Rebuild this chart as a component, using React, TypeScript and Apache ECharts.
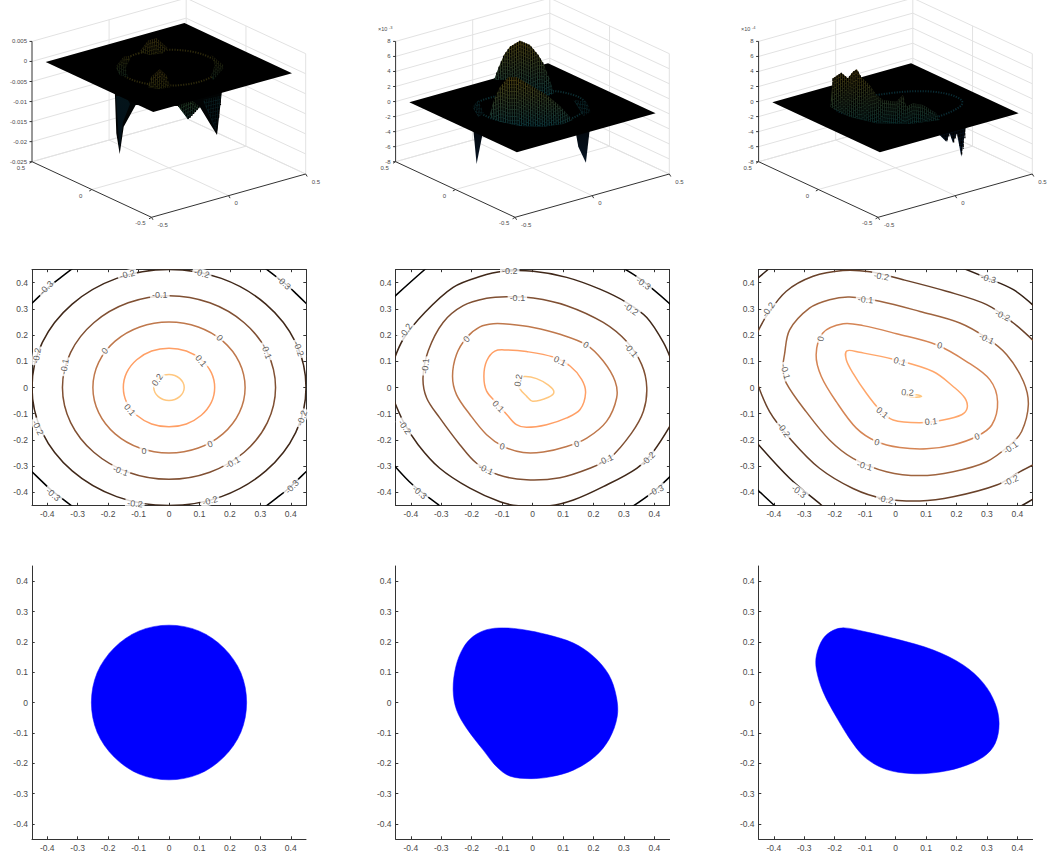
import React, { useEffect, useRef } from "react";
import * as echarts from "echarts";

type Pt = number[];
const FONT = '"Liberation Sans", Arial, sans-serif';

// ---------- tick lists ----------
const planeTicks = [-0.4, -0.3, -0.2, -0.1, 0, 0.1, 0.2, 0.3, 0.4];
const boxTicks = [-0.5, 0, 0.5];
const zTicksA = [0.005, 0, -0.005, -0.01, -0.015, -0.02, -0.025];
const zTicksB = [8, 6, 4, 2, 0, -2, -4, -6, -8];

// ---------- contour colours (copper map) ----------
const copperSix: Record<string, string> = { "-0.3": "#000000", "-0.2": "#402819", "-0.1": "#805033", "0": "#BF784C", "0.1": "#FF9F65", "0.2": "#FFC77F" };
const copperSeven: Record<string, string> = { "-0.4": "#000000", "-0.3": "#352115", "-0.2": "#6A422A", "-0.1": "#9F643F", "0": "#D58555", "0.1": "#FFA66A", "0.2": "#FFC77F" };

// ---------- contour panel 1 ----------
const p1L02: Pt[] = [[-0.035,0.035],[-0.019,0.046],[0,0.05],[0.019,0.046],[0.035,0.035],[0.046,0.019],[0.05,0],[0.046,-0.019],[0.035,-0.035],[0.019,-0.046],[0,-0.05],[-0.019,-0.046],[-0.035,-0.035],[-0.046,-0.019],[-0.05,0],[-0.046,0.019]];
const p1L01: Pt[] = [[0.106,0.106],[0.139,0.057],[0.15,0],[0.139,-0.057],[0.106,-0.106],[0.057,-0.139],[0,-0.15],[-0.057,-0.139],[-0.106,-0.106],[-0.139,-0.057],[-0.15,0],[-0.139,0.057],[-0.106,0.106],[-0.057,0.139],[0,0.15],[0.057,0.139]];
const p1L0: Pt[] = [[0.177,0.177],[0.231,0.096],[0.25,0],[0.231,-0.096],[0.177,-0.177],[0.096,-0.231],[0,-0.25],[-0.096,-0.231],[-0.177,-0.177],[-0.231,-0.096],[-0.25,0],[-0.231,0.096],[-0.177,0.177],[-0.096,0.231],[0,0.25],[0.096,0.231]];
const p1Lm1: Pt[] = [[0.247,0.247],[0.323,0.134],[0.35,0],[0.323,-0.134],[0.247,-0.247],[0.134,-0.323],[0,-0.35],[-0.134,-0.323],[-0.247,-0.247],[-0.323,-0.134],[-0.35,0],[-0.323,0.134],[-0.247,0.247],[-0.134,0.323],[0,0.35],[0.134,0.323]];
const p1Lm2: Pt[] = [[0.318,0.318],[0.416,0.172],[0.45,0],[0.416,-0.172],[0.318,-0.318],[0.172,-0.416],[0,-0.45],[-0.172,-0.416],[-0.318,-0.318],[-0.416,-0.172],[-0.45,0],[-0.416,0.172],[-0.318,0.318],[-0.172,0.416],[0,0.45],[0.172,0.416]];
const p1Lm3a: Pt[] = [[-0.46,0.31],[-0.42,0.355],[-0.389,0.389],[-0.355,0.42],[-0.31,0.46]];
const p1Lm3b: Pt[] = [[0.46,0.31],[0.42,0.355],[0.389,0.389],[0.355,0.42],[0.31,0.46]];
const p1Lm3c: Pt[] = [[-0.46,-0.31],[-0.42,-0.355],[-0.389,-0.389],[-0.355,-0.42],[-0.31,-0.46]];
const p1Lm3d: Pt[] = [[0.46,-0.31],[0.42,-0.355],[0.389,-0.389],[0.355,-0.42],[0.31,-0.46]];

// ---------- contour panel 2 ----------
const p2L02: Pt[] = [[-0.047,0.027],[-0.028,0.042],[0.013,0.034],[0.052,0.009],[0.07,-0.017],[0.052,-0.037],[0,-0.052],[-0.02,-0.033],[-0.042,-0.004]];
const p2L01: Pt[] = [[-0.124,0.139],[-0.085,0.143],[-0.02,0.137],[0.068,0.116],[0.123,0.082],[0.161,0.031],[0.174,-0.02],[0.156,-0.084],[0.112,-0.116],[0.046,-0.142],[-0.02,-0.152],[-0.053,-0.142],[-0.085,-0.103],[-0.118,-0.059],[-0.151,-0.014],[-0.16,0.043],[-0.151,0.101]];
const p2L0: Pt[] = [[-0.129,0.243],[-0.075,0.241],[0.002,0.229],[0.09,0.203],[0.178,0.162],[0.232,0.101],[0.271,0.024],[0.276,-0.04],[0.243,-0.129],[0.178,-0.193],[0.112,-0.225],[0.035,-0.246],[-0.031,-0.248],[-0.096,-0.225],[-0.151,-0.18],[-0.206,-0.103],[-0.25,-0.027],[-0.263,0.043],[-0.25,0.126],[-0.217,0.19],[-0.173,0.231]];
const p2Lm1: Pt[] = [[-0.36,0.037],[-0.343,0.139],[-0.294,0.248],[-0.228,0.312],[-0.151,0.34],[-0.085,0.346],[0.002,0.341],[0.112,0.312],[0.232,0.248],[0.309,0.175],[0.358,0.088],[0.375,0],[0.364,-0.091],[0.325,-0.174],[0.254,-0.269],[0.188,-0.308],[0.09,-0.344],[-0.02,-0.352],[-0.113,-0.333],[-0.184,-0.289],[-0.239,-0.218],[-0.305,-0.116],[-0.348,-0.04]];
const p2Lm2a: Pt[] = [[-0.46,0.09],[-0.425,0.184],[-0.354,0.286],[-0.261,0.382],[-0.173,0.423],[-0.096,0.443],[0.002,0.443],[0.112,0.42],[0.221,0.375],[0.309,0.324],[0.375,0.267],[0.43,0.171],[0.46,0.09]];
const p2Lm2b: Pt[] = [[-0.46,-0.036],[-0.425,-0.129],[-0.376,-0.218],[-0.305,-0.308],[-0.206,-0.384],[-0.107,-0.436],[-0.047,-0.451],[0.057,-0.451],[0.134,-0.429],[0.232,-0.378],[0.342,-0.308],[0.397,-0.244],[0.46,-0.13]];
const p2Lm3a: Pt[] = [[-0.46,0.34],[-0.354,0.45],[-0.34,0.46]];
const p2Lm3b: Pt[] = [[0.29,0.46],[0.353,0.414],[0.46,0.31]];
const p2Lm3c: Pt[] = [[-0.46,-0.29],[-0.393,-0.372],[-0.305,-0.451],[-0.295,-0.46]];
const p2Lm3d: Pt[] = [[0.32,-0.46],[0.397,-0.397],[0.46,-0.33]];

// ---------- contour panel 3 ----------
const p3L02: Pt[] = [[0.03,-0.028],[0.069,-0.028],[0.085,-0.034],[0.058,-0.037]];
const p3L01: Pt[] = [[-0.16,0.14],[-0.118,0.134],[-0.008,0.108],[0.123,0.061],[0.189,0.004],[0.228,-0.041],[0.235,-0.079],[0.217,-0.104],[0.156,-0.124],[0.08,-0.134],[-0.008,-0.124],[-0.052,-0.085],[-0.096,-0.022],[-0.14,0.055],[-0.162,0.106]];
const p3L0: Pt[] = [[-0.172,0.243],[-0.107,0.236],[0.003,0.205],[0.134,0.163],[0.233,0.099],[0.31,0.029],[0.335,-0.054],[0.316,-0.143],[0.266,-0.187],[0.189,-0.219],[0.102,-0.234],[0.014,-0.229],[-0.063,-0.206],[-0.129,-0.155],[-0.195,-0.054],[-0.244,0.042],[-0.261,0.125],[-0.239,0.208]];
const p3Lm1: Pt[] = [[-0.365,0.125],[-0.348,0.22],[-0.283,0.303],[-0.217,0.335],[-0.151,0.345],[-0.052,0.329],[0.08,0.29],[0.211,0.246],[0.299,0.189],[0.365,0.125],[0.42,0.023],[0.436,-0.066],[0.414,-0.168],[0.376,-0.219],[0.299,-0.283],[0.189,-0.321],[0.08,-0.336],[-0.03,-0.321],[-0.14,-0.27],[-0.217,-0.2],[-0.294,-0.092],[-0.359,0.017],[-0.37,0.074]];
const p3Lm2a: Pt[] = [[-0.46,0.195],[-0.425,0.271],[-0.359,0.367],[-0.271,0.424],[-0.173,0.446],[-0.085,0.441],[0.025,0.411],[0.167,0.367],[0.299,0.316],[0.387,0.246],[0.46,0.17]];
const p3Lm2b: Pt[] = [[-0.46,0.035],[-0.414,-0.092],[-0.343,-0.2],[-0.25,-0.308],[-0.14,-0.385],[-0.041,-0.423],[0.08,-0.433],[0.189,-0.417],[0.332,-0.372],[0.409,-0.321],[0.46,-0.29]];
const p3Lm3a: Pt[] = [[-0.46,0.41],[-0.419,0.45],[-0.41,0.46]];
const p3Lm3b: Pt[] = [[0.21,0.46],[0.299,0.418],[0.387,0.373],[0.46,0.305]];
const p3Lm3c: Pt[] = [[-0.46,-0.205],[-0.348,-0.346],[-0.244,-0.448],[-0.23,-0.46]];
const p3Lm3d: Pt[] = [[0.4,-0.46],[0.414,-0.451],[0.46,-0.42]];
const p3Lm4: Pt[] = [[-0.46,-0.383],[-0.397,-0.451],[-0.387,-0.46]];

// level, points, closed
const contoursP1: [string, Pt[], boolean][] = [["-0.3",p1Lm3a,false],["-0.3",p1Lm3b,false],["-0.3",p1Lm3c,false],["-0.3",p1Lm3d,false],["-0.2",p1Lm2,true],["-0.1",p1Lm1,true],["0",p1L0,true],["0.1",p1L01,true],["0.2",p1L02,true]];
const contoursP2: [string, Pt[], boolean][] = [["-0.3",p2Lm3a,false],["-0.3",p2Lm3b,false],["-0.3",p2Lm3c,false],["-0.3",p2Lm3d,false],["-0.2",p2Lm2a,false],["-0.2",p2Lm2b,false],["-0.1",p2Lm1,true],["0",p2L0,true],["0.1",p2L01,true],["0.2",p2L02,true]];
const contoursP3: [string, Pt[], boolean][] = [["-0.4",p3Lm4,false],["-0.3",p3Lm3a,false],["-0.3",p3Lm3b,false],["-0.3",p3Lm3c,false],["-0.3",p3Lm3d,false],["-0.2",p3Lm2a,false],["-0.2",p3Lm2b,false],["-0.1",p3Lm1,true],["0",p3L0,true],["0.1",p3L01,true],["0.2",p3L02,true]];

// ---------- contour labels: text, x, y, angle ----------
const labelsP1: [string, number, number, number][] = [
  ["-0.3",-0.403,0.38,45],["-0.2",-0.137,0.431,15],["-0.2",0.108,0.435,-15],["-0.3",0.377,0.399,-42],["-0.2",0.426,0.148,-70],["-0.1",-0.03,0.351,0],["-0.1",0.32,0.138,-70],["0",0.166,0.189,-48],["0",-0.211,0.14,50],["0.1",0.105,0.102,-50],["-0.1",-0.343,0.08,80],["-0.2",-0.434,0.121,80],["0.2",-0.038,0.029,55],["0.1",-0.129,-0.085,-50],["-0.2",-0.431,-0.153,-65],["-0.2",0.437,-0.117,70],["0",-0.082,-0.241,0],["0",0.135,-0.216,20],["-0.1",-0.159,-0.318,-20],["-0.1",0.209,-0.286,30],["-0.3",-0.381,-0.408,-40],["-0.2",-0.112,-0.443,-5],["-0.2",0.135,-0.432,15],["-0.3",0.404,-0.379,45],
];
const labelsP2: [string, number, number, number][] = [
  ["-0.2",-0.075,0.443,0],["-0.3",0.364,0.397,-35],["-0.1",-0.05,0.341,0],["-0.2",0.323,0.299,-35],["-0.2",-0.417,0.216,55],["0",-0.217,0.184,50],["0",0.175,0.162,-30],["-0.1",0.323,0.142,-50],["0.1",0.09,0.101,-25],["-0.1",-0.352,0.082,85],["0.2",-0.047,0.027,80],["0.1",-0.113,-0.072,-45],["-0.2",-0.42,-0.151,-55],["0",-0.1,-0.225,-15],["0",0.145,-0.215,15],["-0.2",0.38,-0.272,45],["-0.1",0.24,-0.276,25],["-0.1",-0.154,-0.312,-25],["-0.3",-0.371,-0.4,-40],["-0.3",0.406,-0.393,25],
];
const labelsP3: [string, number, number, number][] = [
  ["-0.2",-0.047,0.424,-10],["-0.3",0.305,0.415,-15],["-0.1",-0.099,0.335,-5],["-0.2",0.351,0.274,-25],["-0.2",-0.418,0.297,55],["-0.1",0.299,0.186,-25],["0",-0.246,0.186,75],["0",0.145,0.16,-15],["0.1",0.014,0.099,-15],["-0.1",-0.362,0.061,-75],["0.2",0.039,-0.019,-5],["0.1",-0.044,-0.096,-40],["0.1",0.116,-0.13,5],["-0.2",-0.368,-0.162,-55],["0",-0.061,-0.209,-15],["0",0.268,-0.187,20],["-0.1",0.378,-0.229,35],["-0.1",-0.102,-0.299,-15],["-0.2",0.379,-0.355,25],["-0.3",-0.318,-0.397,-35],["-0.2",-0.033,-0.427,-10],
];

// ---------- blue regions ----------
const regionA: Pt[] = [[0,0.255],[0.098,0.236],[0.18,0.18],[0.236,0.098],[0.255,0],[0.236,-0.098],[0.18,-0.18],[0.098,-0.236],[0,-0.255],[-0.098,-0.236],[-0.18,-0.18],[-0.236,-0.098],[-0.255,0],[-0.236,0.098],[-0.18,0.18],[-0.098,0.236]];
const regionB: Pt[] = [[-0.096,0.246],[-0.03,0.24],[0.047,0.224],[0.134,0.196],[0.2,0.152],[0.25,0.092],[0.275,0.02],[0.278,-0.046],[0.252,-0.12],[0.205,-0.178],[0.134,-0.223],[0.058,-0.245],[-0.008,-0.251],[-0.074,-0.243],[-0.118,-0.212],[-0.162,-0.157],[-0.217,-0.085],[-0.25,-0.024],[-0.261,0.042],[-0.252,0.119],[-0.228,0.18],[-0.195,0.218],[-0.151,0.24]];
const regionC: Pt[] = [[-0.168,0.246],[-0.107,0.235],[0.003,0.209],[0.124,0.173],[0.223,0.123],[0.289,0.063],[0.327,-0.003],[0.34,-0.069],[0.327,-0.135],[0.289,-0.179],[0.212,-0.214],[0.124,-0.232],[0.047,-0.234],[-0.03,-0.221],[-0.096,-0.185],[-0.14,-0.135],[-0.195,-0.047],[-0.238,0.035],[-0.26,0.107],[-0.26,0.156],[-0.238,0.211],[-0.205,0.238]];

// ---------- silhouettes of the surfaces, in the view plane of each 3D panel ----------
const s1Under: Pt[] = [[82.7,88],[84.3,133.3],[87.7,154],[91.7,126.7],[103.7,105],[146,106],[156,119.3],[167.7,106.7],[177.7,123.3],[185,135],[190.3,88]];
const s1ShadeMid: Pt[] = [[146,106],[156,119.3],[167.7,106.7],[159,100]];
const s1ShadeLeft: Pt[] = [[84,96],[87.5,150],[91,122],[98,104],[94,96]];
const s1ShadeRight: Pt[] = [[171,100],[184,131],[189,96]];
const s1Back: Pt[] = [[107.7,51.7],[116,40.7],[124.3,38.3],[136,48.3],[131,53.3],[117.7,55]];
const s1Front: Pt[] = [[116,87.3],[119.3,76.7],[127.7,69.3],[134.3,75],[138.3,87.3],[127,89]];
const s1Left: Pt[] = [[83.7,66.7],[91.7,56.7],[99.3,56],[93.7,68.3],[96,77.3],[87.7,75]];
const s1Right: Pt[] = [[179.3,55],[191,65],[191.7,68.3],[181,80],[179.3,75],[182.7,65]];

const s2SpikeL: Pt[] = [[77,122],[81,164],[89.3,122]];
const s2SpikeR: Pt[] = [[178.3,122],[182.7,146.7],[190.3,162.7],[195,122]];
const s2Back: Pt[] = [[98.3,80],[102.7,68.3],[108.3,55],[114.3,46.7],[124.3,40.7],[134.3,45],[142.7,55],[147.7,63.3],[153.7,78.3],[158.3,93.3],[151,96.7],[121,80]];
const s2Front: Pt[] = [[93.7,116.7],[98.3,100],[104.3,87.3],[112.7,77.3],[121,77.3],[134.3,85],[151,95],[164.3,106],[177,120],[167.7,124],[147.7,126.7],[124.3,126],[104.3,121.7]];
const s2SideL: Pt[] = [[77,107],[82.5,100.7],[88,113],[83,117.3]];
const s2SideR: Pt[] = [[178,100],[191,102],[195,112],[188,116]];

const s3Hump: Pt[] = [[71.7,106.7],[74.3,78.3],[82.7,72.7],[89.3,78.3],[94.3,71.7],[98.3,69.3],[102.7,77.3],[111,85],[117.7,95],[124.3,100],[137.7,101.7],[144.3,95],[147.7,106.7],[154.3,103.3],[164.3,105],[177.7,113.3],[181,120],[151,124],[117.7,123.3],[91,116.7]];
const s3Spike: Pt[] = [[181,125],[181,135],[187.7,141.7],[191,133.3],[194.3,142.7],[198.3,133.3],[202.7,156.7],[207,128.3],[207,118]];

// ---------- layout ----------
const colLeft = [32, 395.6, 758.6];
const plotWidth = 274;
const rows = { surface: { top: 0, height: 228 }, contour: { top: 269.5, height: 236 }, region: { top: 566, height: 273 } };
const TEXT = "#4a4a4a";
const AXIS = "#333333";
const WALL = "#e2e2e2";

// projection of the parallelepiped used by the 3D panels
const project = (x: number, y: number, z: number, zMin: number, zMax: number): Pt => [
  119.5 + (x + 0.5) * 154.2 - (y + 0.5) * 119.5,
  217.3 - (x + 0.5) * 43.3 - (y + 0.5) * 55.6 - ((z - zMin) / (zMax - zMin)) * 120.3,
];

function scan(pts: Pt[], u: number): [number, number] | null {
  let lo = Infinity, hi = -Infinity;
  for (let i = 0; i < pts.length; i++) {
    const a = pts[i], b = pts[(i + 1) % pts.length];
    if ((a[0] <= u && b[0] > u) || (b[0] <= u && a[0] > u)) {
      const v = a[1] + ((u - a[0]) / (b[0] - a[0])) * (b[1] - a[1]);
      lo = Math.min(lo, v); hi = Math.max(hi, v);
    }
  }
  return lo < hi ? [lo, hi] : null;
}

function polySeries(idx: number, pts: Pt[], top: string, bottom: string, stripes = 0, z = 2) {
  return {
    type: "custom", coordinateSystem: "cartesian2d", xAxisIndex: idx, yAxisIndex: idx, silent: true, z,
    data: pts, clip: false,
    renderItem: (params: any, api: any) => {
      if (params.dataIndex !== 0) return null;
      const children: any[] = [{
        type: "polygon", shape: { points: pts.map((p) => api.coord(p)) },
        style: { fill: new echarts.graphic.LinearGradient(0, 0, 0, 1, [{ offset: 0, color: top }, { offset: 1, color: bottom }]) },
      }];
      if (stripes > 0) {
        const us = pts.map((p) => p[0]);
        for (let u = Math.min(...us) + 0.5; u < Math.max(...us); u += stripes) {
          const r = scan(pts, u);
          if (!r) continue;
          const a = api.coord([u, r[0]]), b = api.coord([u, r[1]]);
          children.push({ type: "line", shape: { x1: a[0], y1: a[1], x2: b[0] + 0.8, y2: b[1] }, style: { stroke: "#000", lineWidth: 1.25, lineDash: [3, 0.6] } });
        }
      }
      return { type: "group", children };
    },
  };
}

function surfacePanel(idx: number, zTicks: number[], zMin: number, zMax: number, exponent: string | null, ring: Pt[], ringColor: string) {
  const P = (x: number, y: number, z: number) => project(x, y, z, zMin, zMax);
  const box = {
    type: "custom", coordinateSystem: "cartesian2d", xAxisIndex: idx, yAxisIndex: idx, silent: true, z: 1, clip: false,
    data: [[0, 0]],
    renderItem: (_p: any, api: any) => {
      const kids: any[] = [];
      const line = (a: Pt, b: Pt, stroke: string) => {
        const s = api.coord(a), e = api.coord(b);
        kids.push({ type: "line", shape: { x1: s[0], y1: s[1], x2: e[0], y2: e[1] }, style: { stroke, lineWidth: 1 } });
      };
      const text = (t: string, at: Pt, size: number, align = "center") => {
        const c = api.coord(at);
        kids.push({ type: "text", style: { text: t, x: c[0], y: c[1], fill: TEXT, font: `${size}px ${FONT}`, align, verticalAlign: "middle" } });
      };
      zTicks.forEach((z) => { line(P(-0.5, 0.5, z), P(0.5, 0.5, z), WALL); line(P(0.5, 0.5, z), P(0.5, -0.5, z), WALL); });
      line(P(0.5, 0.5, zMin), P(0.5, 0.5, zMax), WALL);
      line(P(0, 0.5, zMin), P(0, 0.5, zMax), WALL);
      line(P(0.5, 0, zMin), P(0.5, 0, zMax), WALL);
      line(P(0.5, -0.5, zMin), P(0.5, -0.5, zMax), WALL);
      line(P(0, -0.5, zMin), P(0, 0.5, zMin), WALL);
      line(P(-0.5, 0, zMin), P(0.5, 0, zMin), WALL);
      line(P(-0.5, 0.5, zMin), P(0.5, 0.5, zMin), WALL);
      line(P(0.5, 0.5, zMin), P(0.5, -0.5, zMin), WALL);
      line(P(-0.5, 0.5, zMin), P(-0.5, 0.5, zMax), AXIS);
      line(P(-0.5, -0.5, zMin), P(0.5, -0.5, zMin), AXIS);
      line(P(-0.5, -0.5, zMin), P(-0.5, 0.5, zMin), AXIS);
      zTicks.forEach((z) => {
        const p = P(-0.5, 0.5, z);
        line([p[0] - 2.5, p[1]], p, AXIS);
        text(String(z), [p[0] - 5, p[1]], 6, "right");
      });
      boxTicks.forEach((t) => {
        const a = P(t, -0.5, zMin);
        line(a, [a[0] + 1.5, a[1] + 2.5], AXIS);
        text(String(t), [a[0] + 6, a[1] + 7.5], 6, "left");
        const b = P(-0.5, t, zMin);
        line(b, [b[0] - 2.5, b[1] + 1.5], AXIS);
        text(String(t), [b[0] - 11, b[1] + 6], 6);
      });
      if (exponent) {
        const top = P(-0.5, 0.5, zMax);
        text("×10", [top[0] - 13, top[1] - 12], 5.5);
        text(exponent, [top[0] - 5, top[1] - 14], 4);
      }
      return { type: "group", children: kids };
    },
  };
  const corners: Pt[] = [P(-0.45, 0.45, 0), P(0.45, 0.45, 0), P(0.45, -0.45, 0), P(-0.45, -0.45, 0)];
  const plate = polySeries(idx, corners, "#000000", "#000000", 0, 5);
  const ringPts = ring.map((p) => P(p[0], p[1], 0));
  const ringSeries = {
    type: "custom", coordinateSystem: "cartesian2d", xAxisIndex: idx, yAxisIndex: idx, data: ringPts, silent: true, z: 6, clip: false,
    renderItem: (params: any, api: any) => {
      if (params.dataIndex !== 0) return null;
      return { type: "polygon", shape: { points: ringPts.map((p) => api.coord(p)), smooth: 0.34 }, style: { fill: "none", stroke: ringColor, lineWidth: 2, lineDash: [1.2, 1.4] } };
    },
  };
  return { box, plate, ringSeries };
}

function buildOption() {
  const grid: any[] = [], xAxis: any[] = [], yAxis: any[] = [], series: any[] = [];
  const tick = { show: true, inside: true, length: 2.7, customValues: planeTicks, lineStyle: { color: AXIS, width: 1 } };
  const labelStyle = { show: true, color: TEXT, fontSize: 8.5, fontFamily: FONT, customValues: planeTicks, formatter: (v: number) => String(Number(v.toFixed(1))) };

  colLeft.forEach((left, i) => {
    grid.push({ left, top: rows.surface.top, width: plotWidth, height: rows.surface.height });
    xAxis.push({ type: "value", gridIndex: i, min: 0, max: plotWidth, show: false });
    yAxis.push({ type: "value", gridIndex: i, min: 0, max: rows.surface.height, inverse: true, show: false });
  });

  const panels = [
    surfacePanel(0, zTicksA, -0.025, 0.005, null, regionA, "#2e2a0c"),
    surfacePanel(1, zTicksB, -8, 8, "-3", regionB, "#0c2e32"),
    surfacePanel(2, zTicksB, -8, 8, "-4", regionC, "#0a2c34"),
  ];
  panels.forEach((p) => series.push(p.box, p.plate, p.ringSeries));

  const OL = "#4c3f0e", OLD = "#2e2a0c", TEAL = "#0a343a";
  series.push(
    polySeries(0, s1Under, "#010303", "#010304", 0, 3),
    polySeries(0, s1ShadeMid, "#2c4426", "#0e2c2c", 1.8, 4),
    polySeries(0, s1ShadeLeft, "#04141a", "#03101a", 0, 4),
    polySeries(0, s1ShadeRight, "#0b2426", "#05121a", 1.8, 4),
    polySeries(0, s1Back, "#3e3410", "#28280c", 1.9, 7),
    polySeries(0, s1Front, "#3e3410", "#28280c", 1.9, 7),
    polySeries(0, s1Left, OLD, "#0e2018", 1.9, 7),
    polySeries(0, s1Right, OLD, "#0e2018", 1.9, 7),
    polySeries(1, s2SpikeL, "#020508", "#061424", 0, 3),
    polySeries(1, s2SpikeR, "#020508", "#061424", 0, 3),
    polySeries(1, s2Back, OL, TEAL, 2.3, 7),
    polySeries(1, s2Front, OL, TEAL, 2.3, 8),
    polySeries(1, s2SideL, "#0c2e32", "#081e22", 1.8, 7),
    polySeries(1, s2SideR, "#0c2e32", "#081e22", 1.8, 7),
    polySeries(2, s3Hump, "#453509", "#0a2e2e", 2.1, 7),
    polySeries(2, s3Spike, "#030a12", "#081c34", 1.6, 3),
  );

  const contourSets = [contoursP1, contoursP2, contoursP3];
  const labelSets = [labelsP1, labelsP2, labelsP3];
  const palettes = [copperSix, copperSix, copperSeven];
  const regions = [regionA, regionB, regionC];
  let axisIdx = 3, gridIdx = 3;

  colLeft.forEach((left, i) => {
    const g = gridIdx++;
    grid.push({ left, top: rows.contour.top, width: plotWidth, height: rows.contour.height });
    const base = { type: "value", gridIndex: g, min: -0.45, max: 0.45, splitLine: { show: false }, axisLine: { show: true, onZero: false, lineStyle: { color: AXIS, width: 1 } }, axisTick: tick };
    const main = axisIdx;
    xAxis.push({ ...base, position: "bottom", axisLabel: { ...labelStyle, margin: 4 } });
    yAxis.push({ ...base, position: "left", axisLabel: { ...labelStyle, margin: 4 } });
    xAxis.push({ ...base, position: "top", axisLabel: { show: false } });
    yAxis.push({ ...base, position: "right", axisLabel: { show: false } });
    axisIdx += 2;
    contourSets[i].forEach(([lvl, pts, closed]) => {
      series.push({
        type: "custom", coordinateSystem: "cartesian2d", xAxisIndex: main, yAxisIndex: main, data: pts, silent: true, z: 3, clip: true,
        renderItem: (params: any, api: any) => {
          if (params.dataIndex !== 0) return null;
          return {
            type: closed ? "polygon" : "polyline",
            shape: { points: pts.map((p) => api.coord(p)), smooth: 0.34 },
            style: { fill: "none", stroke: palettes[i][lvl], lineWidth: 1.5 },
          };
        },
      });
    });
    series.push({
      type: "scatter", xAxisIndex: main, yAxisIndex: main, symbolSize: 0.01, silent: true, z: 5, itemStyle: { color: "transparent" }, clip: false,
      data: labelSets[i].map(([t, x, y, a]) => ({
        value: [x, y],
        label: { show: true, position: "inside", formatter: t, rotate: a, color: "#333333", fontSize: 9, fontFamily: FONT, backgroundColor: "#ffffff", padding: [0, 2, 0, 2] },
      })),
    });
  });

  colLeft.forEach((left, i) => {
    const g = gridIdx++;
    grid.push({ left, top: rows.region.top, width: plotWidth, height: rows.region.height });
    const base = { type: "value", gridIndex: g, min: -0.45, max: 0.45, splitLine: { show: false }, axisLine: { show: true, onZero: false, lineStyle: { color: AXIS, width: 1 } }, axisTick: tick };
    const main = axisIdx++;
    xAxis.push({ ...base, position: "bottom", axisLabel: { ...labelStyle, margin: 4 } });
    yAxis.push({ ...base, position: "left", axisLabel: { ...labelStyle, margin: 4 } });
    const pts = regions[i];
    series.push({
      type: "custom", coordinateSystem: "cartesian2d", xAxisIndex: main, yAxisIndex: main, silent: true, z: 2, data: pts,
      renderItem: (params: any, api: any) => {
        if (params.dataIndex !== 0) return null;
        return { type: "polygon", shape: { points: pts.map((p) => api.coord(p)), smooth: 0.34 }, style: { fill: "#0000ff", stroke: "#0000ff", lineWidth: 0.5 } };
      },
    });
  });

  return { animation: false, backgroundColor: "#ffffff", tooltip: { show: false }, legend: { show: false }, grid, xAxis, yAxis, series };
}

export default function App() {
  const ref = useRef<HTMLDivElement>(null);
  useEffect(() => {
    const chart = echarts.init(ref.current!, undefined, { renderer: "svg" });
    chart.setOption(buildOption() as any);
    return () => chart.dispose();
  }, []);
  return (
    <div style={{ position: "fixed", left: 0, top: 0, width: 1049, height: 858, overflow: "hidden" }}>
      <div ref={ref} style={{ width: 1049, height: 858 }} />
    </div>
  );
}
